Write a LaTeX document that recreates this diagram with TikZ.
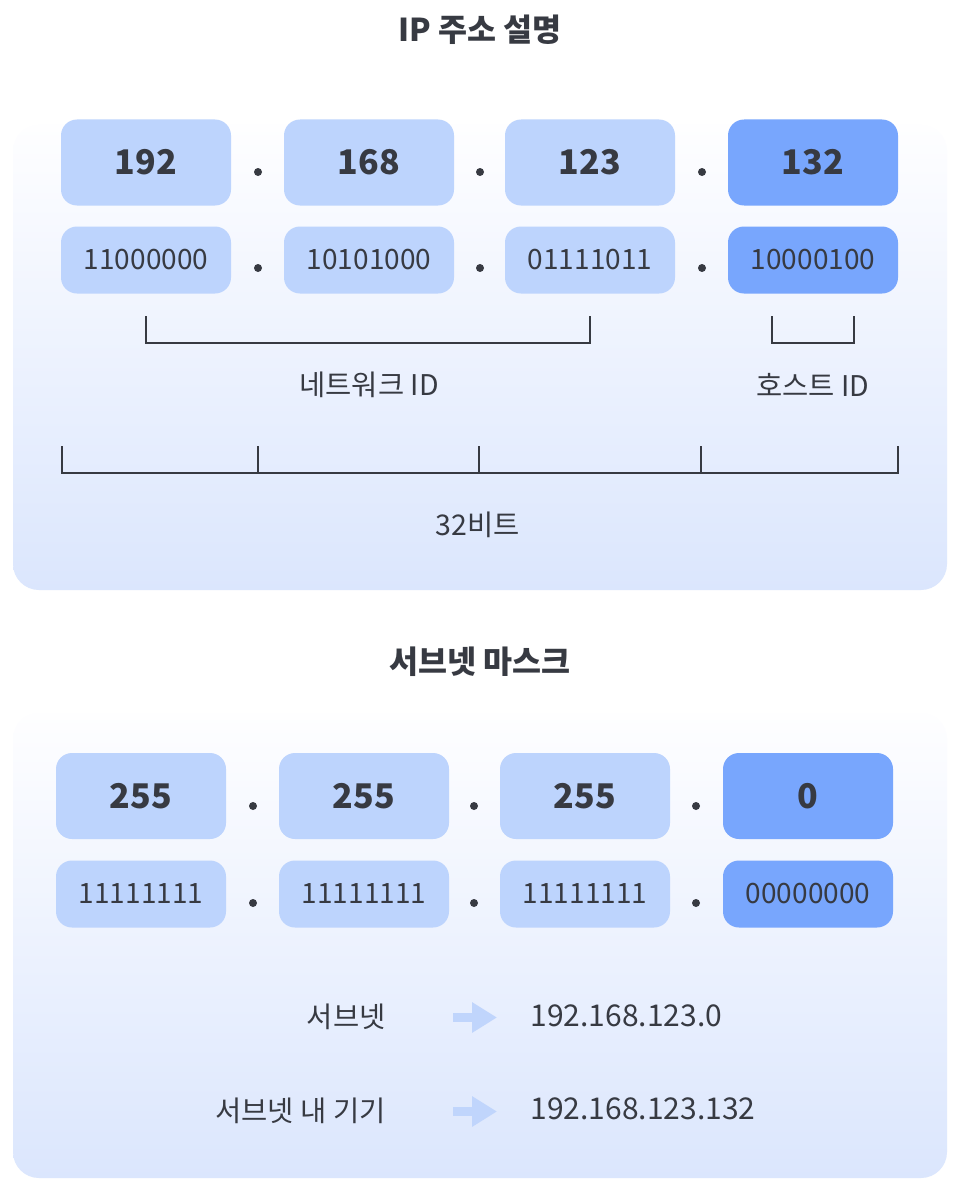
\documentclass[tikz,border=0pt]{standalone}
\usepackage{fontspec}
\setmainfont{Noto Sans CJK KR}
\usetikzlibrary{arrows.meta}
\definecolor{ink}{HTML}{373A42}
\definecolor{lite}{HTML}{BDD4FD}
\definecolor{deep}{HTML}{78A6FD}
\definecolor{paneltop}{HTML}{FEFEFF}
\definecolor{panelbot}{HTML}{DBE6FD}
\definecolor{arrowc}{HTML}{C0D5FC}

\begin{document}
\begin{tikzpicture}[x=1pt,y=-1pt]
  \tikzstyle{byte}=[rounded corners=16pt, minimum width=170pt, minimum height=86pt, inner sep=0pt, fill=lite, text=ink, font=\fontsize{34}{40}\selectfont\bfseries]
  \tikzstyle{bits}=[byte, minimum height=67pt, font=\fontsize{28}{32}\selectfont]
  \tikzstyle{host}=[fill=deep]
  \tikzstyle{sep}=[circle, fill=ink, minimum size=8pt, inner sep=0pt]
  \tikzstyle{title}=[text=ink, font=\fontsize{31.5}{38}\selectfont\bfseries]
  \tikzstyle{label}=[text=ink, font=\fontsize{28.5}{34}\selectfont]
  \tikzstyle{value}=[text=ink, font=\fontsize{30}{36}\selectfont]
  \tikzstyle{brace}=[draw=ink, line width=2.4pt]
  \tikzstyle{pointer}=[draw=arrowc, line width=9pt, -{Triangle[length=25pt, width=29pt]}]
  \tikzstyle{panel}=[rounded corners=26pt, top color=paneltop, bottom color=panelbot]

  \useasboundingbox (0,0) rectangle (961,1196);
  \fill[white] (0,0) rectangle (961,1196);

  % IP address
  \shade[panel] (13,125) rectangle (947,590);
  \node[title] (t1) at (480,30) {IP 주소 설명};

  \node[byte]       (b1) at (146, 162.5) {192};
  \node[byte]       (b2) at (369, 162.5) {168};
  \node[byte]       (b3) at (590, 162.5) {123};
  \node[byte, host] (b4) at (813, 162.5) {132};
  \node[sep] (d1) at (258, 172) {};
  \node[sep] (d2) at (480, 172) {};
  \node[sep] (d3) at (702, 172) {};

  \node[bits]       (n1) at (146, 260) {11000000};
  \node[bits]       (n2) at (369, 260) {10101000};
  \node[bits]       (n3) at (590, 260) {01111011};
  \node[bits, host] (n4) at (813, 260) {10000100};
  \node[sep] (e1) at (258, 268) {};
  \node[sep] (e2) at (480, 268) {};
  \node[sep] (e3) at (702, 268) {};

  \coordinate (netl) at (146, 316);
  \coordinate (netr) at (590, 316);
  \coordinate (hostl) at (772, 316);
  \coordinate (hostr) at (854, 316);
  \draw[brace] (netl) -- ++(0,27) -| (netr);
  \draw[brace] (hostl) -- ++(0,27) -| (hostr);
  \node[label] (netid) at (369, 385) {네트워크 ID};
  \node[label] (hostid) at (813, 385) {호스트 ID};

  \coordinate (bitl) at (62, 446);
  \coordinate (bitr) at (898, 446);
  \draw[brace] (bitl) -- ++(0,27) -| (bitr);
  \foreach \x in {258, 479, 701}
    \draw[brace] (\x, 446) -- (\x, 473);
  \node[label] (bits32) at (478, 525) {32비트};

  % subnet mask
  \shade[panel] (13,713) rectangle (947,1178);
  \node[title] (t2) at (480,662) {서브넷 마스크};

  \node[byte]       (m1) at (141, 796) {255};
  \node[byte]       (m2) at (364, 796) {255};
  \node[byte]       (m3) at (585, 796) {255};
  \node[byte, host] (m4) at (808, 796) {0};
  \node[sep] (f1) at (253, 806) {};
  \node[sep] (f2) at (474, 806) {};
  \node[sep] (f3) at (696, 806) {};

  \node[bits]       (k1) at (141, 894) {11111111};
  \node[bits]       (k2) at (364, 894) {11111111};
  \node[bits]       (k3) at (585, 894) {11111111};
  \node[bits, host] (k4) at (808, 894) {00000000};
  \node[sep] (g1) at (253, 903) {};
  \node[sep] (g2) at (474, 903) {};
  \node[sep] (g3) at (696, 903) {};

  \node[label, anchor=east] (sub) at (389, 1017) {서브넷};
  \node[value, anchor=west] (subip) at (527, 1016) {192.168.123.0};
  \coordinate (p1s) at (453, 1017.5);
  \coordinate (p1e) at (497, 1017.5);
  \draw[pointer] (p1s) -- (p1e);

  \node[label, anchor=east] (dev) at (389, 1111) {서브넷 내 기기};
  \node[value, anchor=west] (devip) at (527, 1109) {192.168.123.132};
  \coordinate (p2s) at (453, 1111.5);
  \coordinate (p2e) at (497, 1111.5);
  \draw[pointer] (p2s) -- (p2e);
\end{tikzpicture}
\end{document}
